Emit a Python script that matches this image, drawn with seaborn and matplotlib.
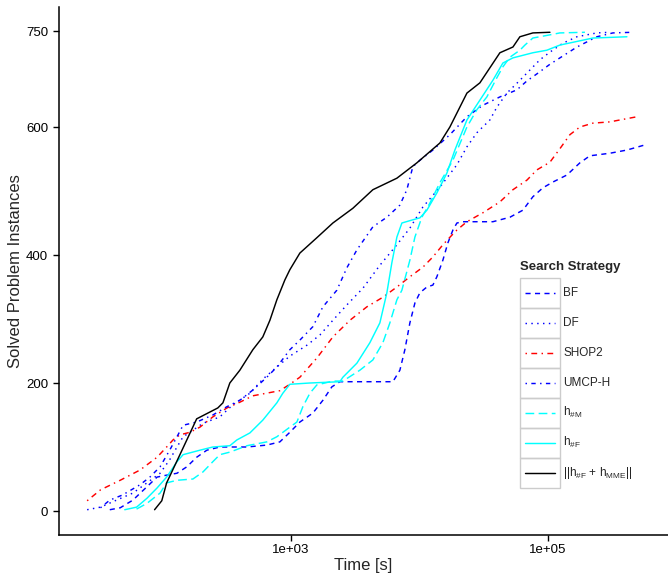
import numpy as np
import pandas as pd
import matplotlib
matplotlib.use("Agg")
import matplotlib.pyplot as plt
import seaborn as sns
from matplotlib.lines import Line2D
from matplotlib.patches import Rectangle
from matplotlib.legend_handler import HandlerLine2D
from matplotlib.ticker import FixedLocator, FixedFormatter, NullLocator

# ── data (time in seconds, solved instances) ──
bf_t = [39, 47, 59, 76, 91, 108, 130, 155, 185, 222, 280, 455, 650, 821, 982, 1175,
        1483, 1775, 2085, 2407, 6220, 7052, 7710, 8436, 9230, 10090, 11440, 12740,
        13680, 15240, 16670, 18230, 19590, 21820, 37320, 50610, 63850, 76380, 91420,
        109400, 140600, 177400, 212200, 303600, 412000, 568700]
bf_n = [2, 5, 17, 38, 53, 56, 59, 69, 84, 95, 100, 100, 103, 108, 123, 139,
        153, 173, 194, 202, 202, 220, 252, 294, 325, 341, 350, 353,
        366, 392, 419, 439, 450, 452, 452, 459, 470, 491, 505,
        514, 525, 544, 555, 559, 564, 572]

df_t = [26, 33, 44, 59, 76, 96, 114, 130, 145, 164, 207, 280, 354, 480, 605, 778, 982,
        1332, 1682, 2123, 2727, 3633, 4928, 6683, 8436, 10650, 14440, 19590, 23440,
        28010, 35370, 40090, 47970, 60540, 72420, 86630, 103700, 130900, 168300,
        240400, 303600]
df_n = [2, 6, 17, 28, 44, 59, 80, 100, 116, 123, 137, 147, 166, 184, 206, 225, 242,
        259, 275, 298, 322, 348, 384, 416, 442, 475, 506, 541, 569,
        591, 611, 631, 653, 673, 689, 705, 717, 731, 741,
        747, 748]

shop_t = [26, 33, 47, 67, 91, 108, 121, 137, 164, 196, 247, 318, 401, 506, 821, 982,
          1175, 1593, 2123, 2879, 3902, 5200, 6683, 8436, 10650, 12740, 15240, 17900,
          19590, 23440, 31210, 42310, 53450, 68660, 82100, 103700, 123900, 148300,
          177400, 223900, 303600, 363200, 492800]
shop_n = [16, 33, 48, 64, 84, 100, 111, 119, 123, 131, 147, 161, 170, 180, 188, 198,
          209, 239, 272, 298, 319, 334, 350, 366, 381, 397, 416, 431,
          439, 452, 466, 483, 502, 517, 533, 545, 566, 588,
          600, 606, 608, 611, 616]

umcp_t = [33, 39, 49, 67, 80, 96, 114, 130, 145, 185, 247, 318, 401, 506, 650, 778,
          982, 1175, 1483, 1775, 2280, 2727, 3265, 4345, 5585, 7052, 7990, 8895, 10090,
          12740, 17270, 23440, 31210, 42310, 57370, 68660, 82100, 103700, 130900,
          168300, 240400, 320400, 458300]
umcp_n = [5, 17, 25, 41, 53, 69, 95, 116, 134, 139, 150, 163, 173, 189, 209, 225,
          252, 267, 288, 319, 345, 380, 408, 444, 459, 478, 502, 538, 548,
          564, 588, 616, 634, 647, 658, 672, 683, 698, 711,
          725, 741, 747, 748]

hm_t = [63, 76, 96, 108, 130, 173, 207, 247, 280, 335, 455, 650, 778, 982, 1114, 1240,
        1406, 1593, 2123, 2540, 3444, 4345, 5200, 5895, 6683, 7310, 8436, 9230, 10450,
        12070, 14440, 18230, 23440, 28010, 33500, 40090, 44650, 50610, 60540, 66230,
        76380, 103700, 123900, 194100]
hm_n = [3, 12, 28, 44, 48, 50, 61, 77, 88, 92, 102, 108, 116, 131, 139, 163,
        184, 197, 203, 203, 220, 236, 263, 294, 330, 345, 392, 428, 459,
        481, 513, 548, 600, 627, 647, 677, 694, 709, 720, 728,
        739, 744, 747, 748]

hf_t = [51, 63, 76, 91, 108, 130, 145, 196, 247, 335, 380, 480, 605, 778, 866, 982,
        1406, 2407, 2540, 3265, 4120, 4928, 5585, 6109, 6683, 7310, 8895, 10090, 11440,
        13680, 16370, 18890, 23440, 29570, 37320, 44650, 53450, 76380, 98200, 123900,
        223900, 412000]
hf_n = [2, 6, 20, 36, 53, 77, 88, 95, 100, 102, 111, 122, 142, 169, 184, 198,
        200, 202, 209, 231, 263, 294, 341, 388, 428, 450, 455, 458, 470,
        497, 528, 564, 611, 642, 673, 700, 708, 716, 720, 728,
        739, 741]

mme_t = [87, 99, 108, 137, 185, 270, 296, 335, 401, 506, 605, 687, 778, 898, 982, 1175,
         1593, 2123, 3037, 4345, 6683, 9560, 14440, 17270, 23440, 29570, 42310, 53450,
         60540, 76380, 103700]
mme_n = [2, 16, 44, 88, 144, 161, 169, 200, 220, 252, 272, 298, 330, 361, 377, 403,
         427, 450, 473, 502, 520, 544, 575, 600, 653, 669, 716, 725,
         741, 747, 748]

strategies = ["BF", "DF", "SHOP2", "UMCP-H", "h#M", "h#F", "h#F+hMME"]
labels = ["BF", "DF", "SHOP2", "UMCP-H", r"h$_{\#\mathregular{M}}$", r"h$_{\#\mathregular{F}}$",
          r"||h$_{\#\mathregular{F}}$ + h$_{\mathregular{MME}}$||"]
series = [(bf_t, bf_n), (df_t, df_n), (shop_t, shop_n), (umcp_t, umcp_n),
          (hm_t, hm_n), (hf_t, hf_n), (mme_t, mme_n)]
y_ticks = [0, 200, 400, 600, 750]
x_ticks = [1e3, 1e5]
x_ticklabels = ["1e+03", "1e+05"]

colors = ["#0000FF", "#0000FF", "#FF0000", "#0000FF", "#00FFFF", "#00FFFF", "#000000"]
dash_styles = [(3.5, 3), (1, 3), (1, 3, 4, 3), (1, 3, 3, 3), (6, 3), "", ""]

df = pd.concat([pd.DataFrame({"time": t, "solved": n, "strategy": s})
                for s, (t, n) in zip(strategies, series)], ignore_index=True)

sns.set_style("ticks")
plt.rcParams["font.family"] = ["Liberation Sans", "DejaVu Sans"]
plt.rcParams["mathtext.default"] = "regular"

fig = plt.figure(figsize=(6.68, 5.74), dpi=100)
ax = fig.add_axes([59 / 668, 1 - 535 / 574, 1 - 59 / 668, (535 - 7) / 574])

sns.lineplot(data=df, x="time", y="solved", hue="strategy", style="strategy",
             hue_order=strategies, style_order=strategies,
             palette=dict(zip(strategies, colors)),
             dashes=dict(zip(strategies, dash_styles)),
             estimator=None, sort=False, linewidth=1.05, legend=False, ax=ax)

ax.set_xscale("log")
ax.set_xlim(15.7, 8.6e5)
ax.set_ylim(-37.5, 787.5)
ax.xaxis.set_major_locator(FixedLocator(x_ticks))
ax.xaxis.set_major_formatter(FixedFormatter(x_ticklabels))
ax.xaxis.set_minor_locator(NullLocator())
ax.set_yticks(y_ticks)
ax.tick_params(axis="both", direction="out", length=4.3, width=1.0,
               labelsize=9.5, colors="black")
ax.tick_params(axis="y", pad=3.5)
ax.tick_params(axis="x", pad=2.5)
ax.spines[["top", "right"]].set_visible(False)
for side in ("left", "bottom"):
    ax.spines[side].set_linewidth(1.1)
    ax.spines[side].set_color("black")
ax.set_xlabel("Time [s]", fontsize=12, labelpad=1)
ax.set_ylabel("Solved Problem Instances", fontsize=12, labelpad=2)
ax.grid(False)


class CellHandler(HandlerLine2D):
    """Legend key drawn inside a light grey cell."""
    def create_artists(self, legend, orig_handle, xdescent, ydescent,
                       width, height, fontsize, trans):
        arts = super().create_artists(legend, orig_handle, xdescent, ydescent,
                                      width, height, fontsize, trans)
        yc = height / 2 - ydescent
        for a in arts:
            a.set_ydata([yc] * len(a.get_xdata()))
        cell = Rectangle((-xdescent, -ydescent), width, height, facecolor="none",
                         edgecolor="#cccccc", linewidth=1.0, transform=trans)
        return [cell] + arts


handles = [Line2D([], [], color=c, linewidth=1.05,
                  linestyle=(0, d) if d else "-")
           for c, d in zip(colors, dash_styles)]
leg = ax.legend(handles, labels, title="Search Strategy", loc="upper left",
                bbox_to_anchor=(0.757, 0.518), frameon=False, fontsize=8.5,
                title_fontproperties={"weight": "bold", "size": 9.5},
                alignment="left", handlelength=3.4, handleheight=3.53,
                labelspacing=0.0, handletextpad=0.25, borderpad=0.0,
                borderaxespad=0.0,
                handler_map={Line2D: CellHandler(numpoints=2, marker_pad=0.4)})
leg._legend_box.sep = 3

fig.savefig("out.png", dpi=100)
